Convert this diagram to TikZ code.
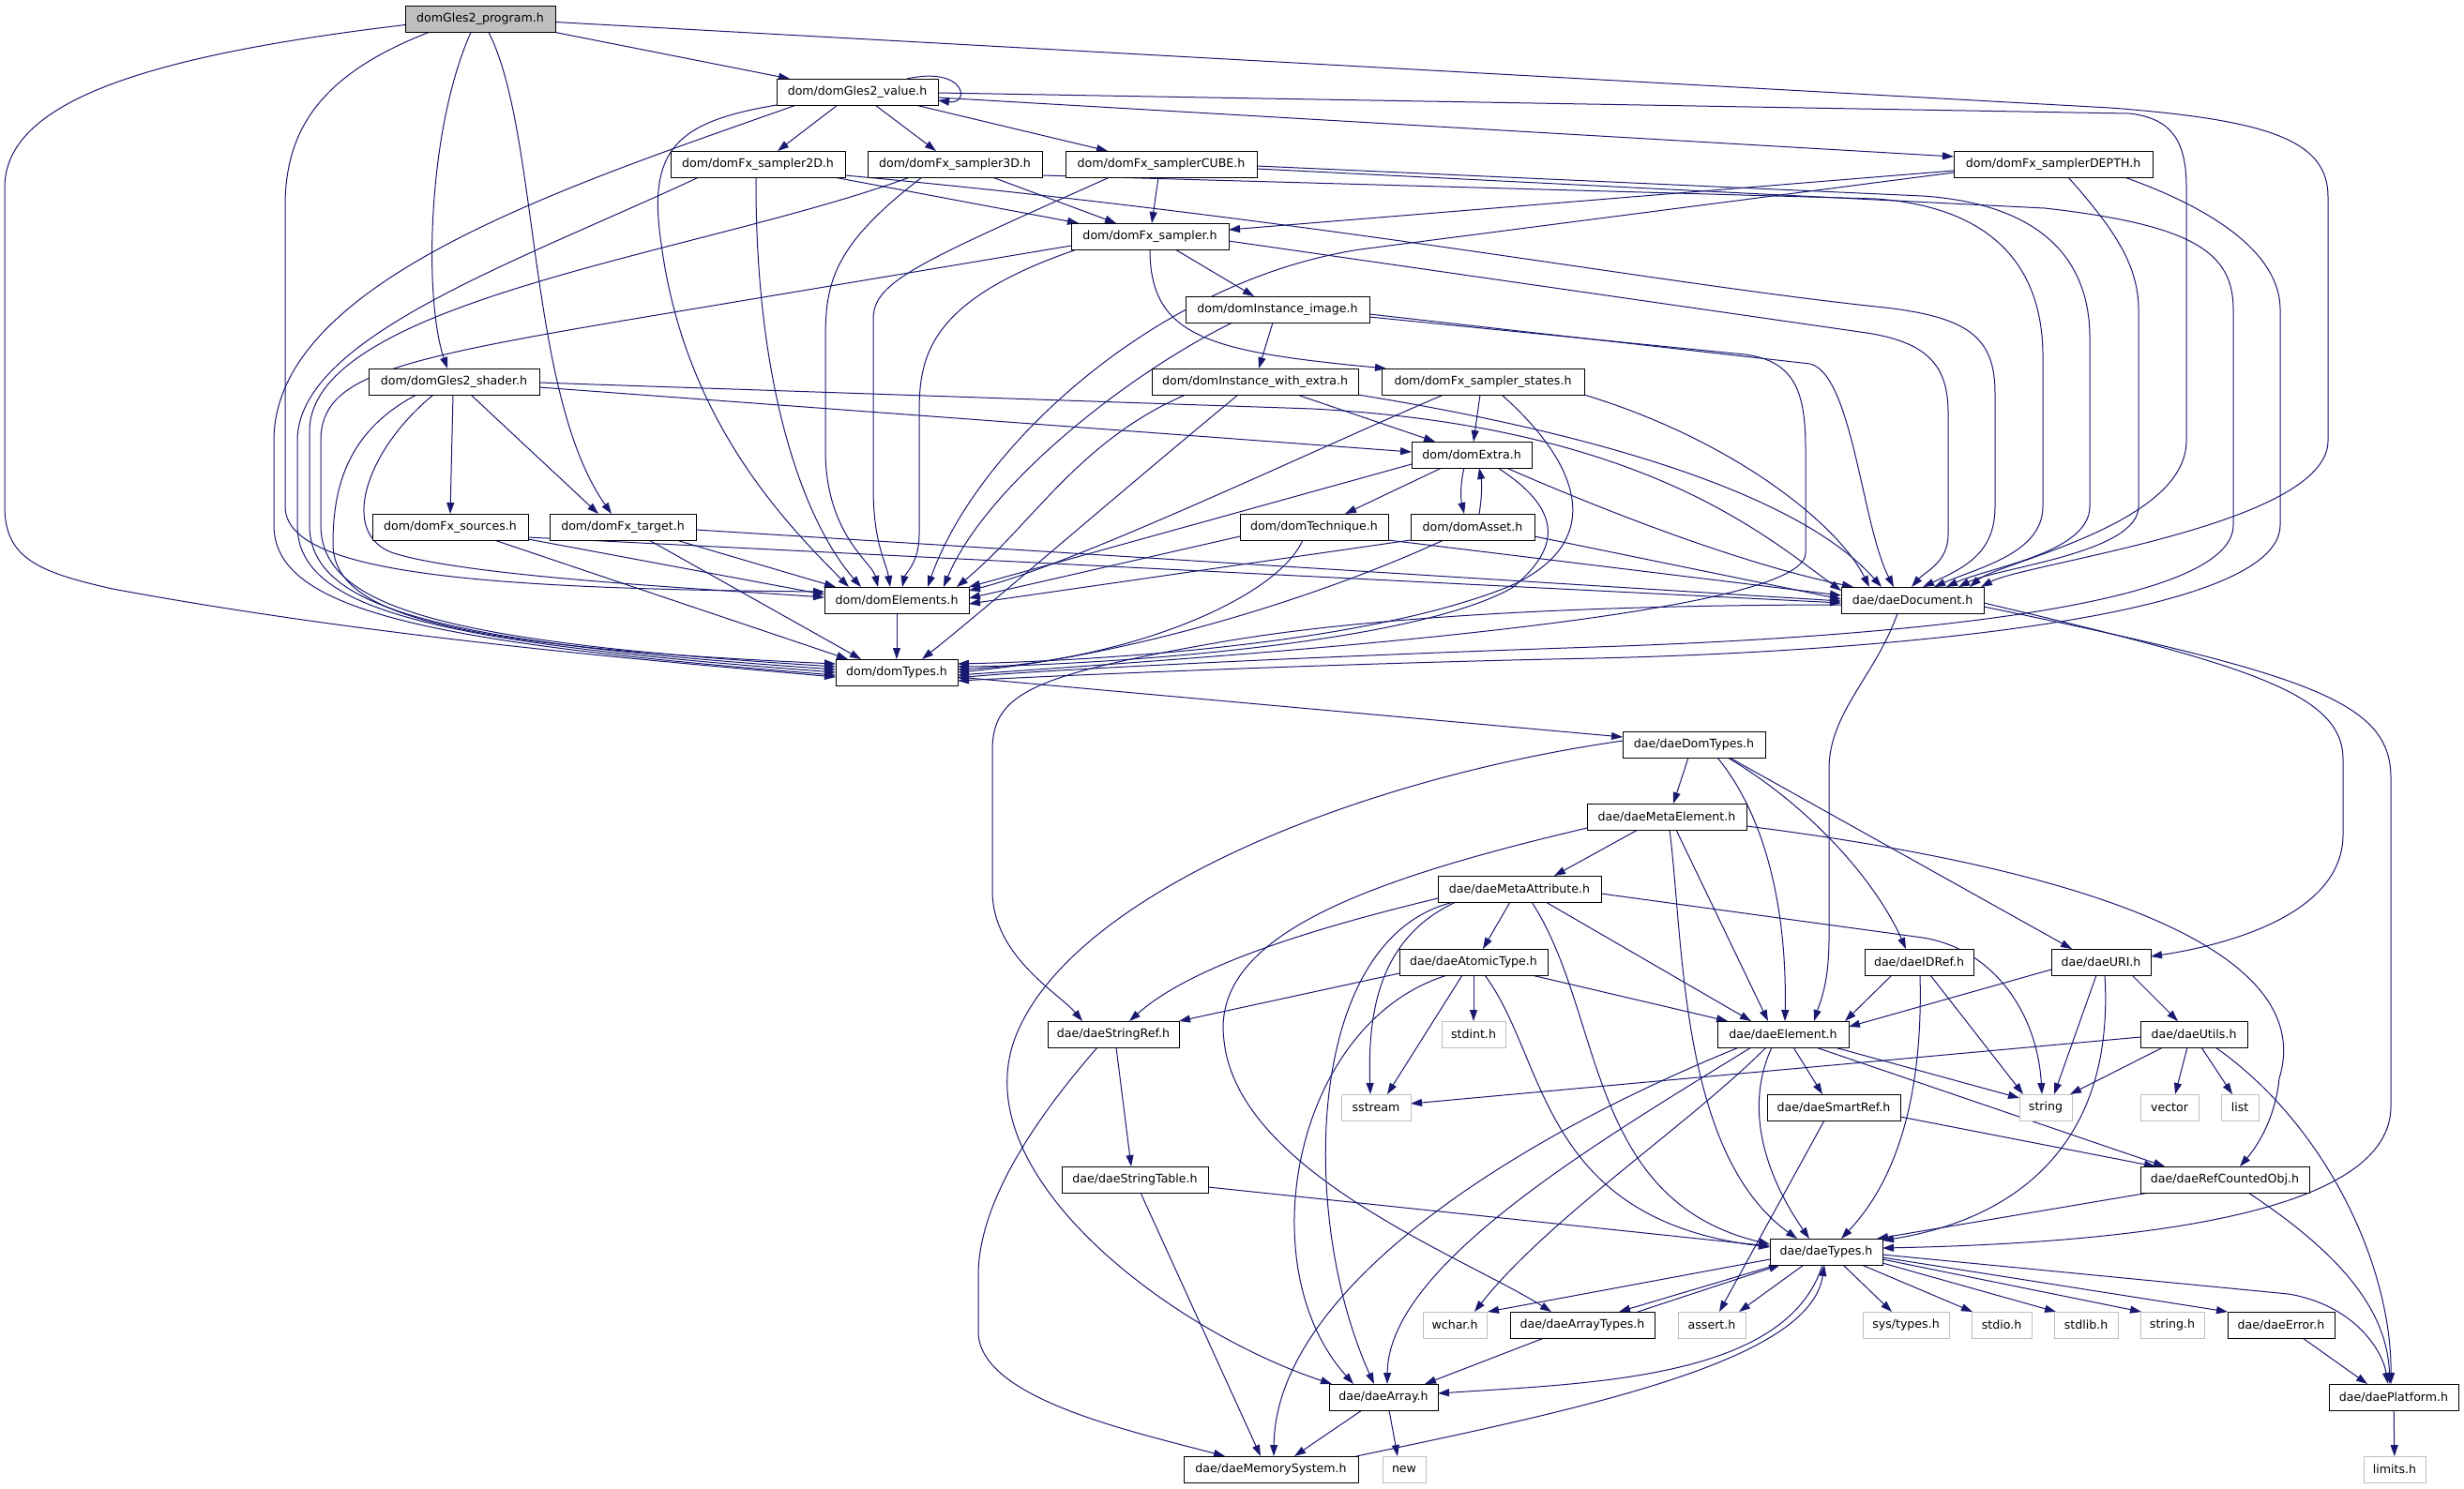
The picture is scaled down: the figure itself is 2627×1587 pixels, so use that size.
\documentclass[tikz,border=0pt]{standalone}
\usepackage{fontspec}
\setmainfont{DejaVu Sans}
\usetikzlibrary{arrows.meta,calc}
\definecolor{edgec}{HTML}{191970}
\definecolor{lgrey}{HTML}{BFBFBF}
\pgfdeclarelayer{bg}
\pgfsetlayers{bg,main}
\newcommand\nodefnt{\fontsize{6.3pt}{7.5pt}\selectfont}
\tikzset{
  nb/.style={draw=black, line width=0.5pt, fill=white, minimum width=#1*0.5pt, minimum height=14pt, inner sep=0pt, outer sep=0pt, font=\nodefnt},
  gb/.style={nb=#1, draw=lgrey},
  e/.style={draw=edgec, line width=0.5pt, -{Triangle[length=6pt,width=4pt]}}
}
\begin{document}
\begin{tikzpicture}[x=0.5pt,y=-0.5pt]
\useasboundingbox (0,0) rectangle (2627,1587);
% nodes
\node[nb=160, fill=lgrey] (P) at (512,20.5) {domGles2\_program.h};
\node[nb=172] (value) at (914,98) {dom/domGles2\_value.h};
\node[nb=186] (s2D) at (808,175) {dom/domFx\_sampler2D.h};
\node[nb=186] (s3D) at (1018,175) {dom/domFx\_sampler3D.h};
\node[nb=204] (CUBE) at (1238,175) {dom/domFx\_samplerCUBE.h};
\node[nb=212] (DEPTH) at (2189,175) {dom/domFx\_samplerDEPTH.h};
\node[nb=168] (sampler) at (1226,252) {dom/domFx\_sampler.h};
\node[nb=196] (instimg) at (1362,330) {dom/domInstance\_image.h};
\node[nb=220] (instwe) at (1338,407) {dom/domInstance\_with\_extra.h};
\node[nb=216] (states) at (1581,407) {dom/domFx\_sampler\_states.h};
\node[nb=182] (shader) at (484,407) {dom/domGles2\_shader.h};
\node[nb=128] (extra) at (1569,485) {dom/domExtra.h};
\node[nb=158] (technique) at (1401,562) {dom/domTechnique.h};
\node[nb=132] (asset) at (1570,562) {dom/domAsset.h};
\node[nb=166] (sources) at (480,562) {dom/domFx\_sources.h};
\node[nb=156] (target) at (664,562) {dom/domFx\_target.h};
\node[nb=154] (domElements) at (956,640) {dom/domElements.h};
\node[nb=130] (domTypes) at (956,717) {dom/domTypes.h};
\node[nb=152] (daeDocument) at (2039,640) {dae/daeDocument.h};
\node[nb=152] (daeDomTypes) at (1806,794) {dae/daeDomTypes.h};
\node[nb=170] (metaElem) at (1777,871) {dae/daeMetaElement.h};
\node[nb=174] (metaAttr) at (1620,948) {dae/daeMetaAttribute.h};
\node[nb=158] (atomic) at (1571,1026) {dae/daeAtomicType.h};
\node[nb=116] (idref) at (2046,1026) {dae/daeIDRef.h};
\node[nb=106] (uri) at (2240,1026) {dae/daeURI.h};
\node[nb=140] (stringref) at (1187,1103) {dae/daeStringRef.h};
\node[gb=68] (stdint) at (1571,1103) {stdint.h};
\node[nb=140] (element) at (1901,1103) {dae/daeElement.h};
\node[nb=114] (utils) at (2339,1103) {dae/daeUtils.h};
\node[gb=74] (sstream) at (1467,1181) {sstream};
\node[nb=142] (smartref) at (1955,1181) {dae/daeSmartRef.h};
\node[gb=56] (string) at (2181,1181) {string};
\node[gb=62] (vector) at (2313,1181) {vector};
\node[gb=40] (list) at (2388,1181) {list};
\node[nb=156] (stringtable) at (1210,1258) {dae/daeStringTable.h};
\node[nb=180] (refcounted) at (2372,1258) {dae/daeRefCountedObj.h};
\node[nb=120] (daetypes) at (1947,1335) {dae/daeTypes.h};
\node[gb=68] (wchar) at (1551,1413) {wchar.h};
\node[nb=154] (arraytypes) at (1687,1413) {dae/daeArrayTypes.h};
\node[gb=72] (assert) at (1825,1413) {assert.h};
\node[gb=92] (systypes) at (2032,1413) {sys/types.h};
\node[gb=64] (stdio) at (2134,1413) {stdio.h};
\node[gb=68] (stdlib) at (2224,1413) {stdlib.h};
\node[gb=68] (stringh) at (2316,1413) {string.h};
\node[nb=114] (error) at (2432,1413) {dae/daeError.h};
\node[nb=116] (array) at (1475,1490) {dae/daeArray.h};
\node[nb=138] (platform) at (2552,1490) {dae/daePlatform.h};
\node[nb=186] (memsys) at (1355,1567) {dae/daeMemorySystem.h};
\node[gb=46] (new) at (1497,1567) {new};
\node[gb=66] (limits) at (2553,1567) {limits.h};

\begin{pgfonlayer}{bg}
% ---- P
\draw[e] ($(P.west)+(0,6)$) .. controls (150,60) and (5,110) .. (5,200) -- (5,540) .. controls (5,595) and (40,610) .. (120,628) .. controls (400,680) and (700,705) .. ($(domTypes.west)+(0,5)$);
\draw[e] ($(P.south west)+(25,0)$) .. controls (340,80) and (304,140) .. (304,220) -- (304,540) .. controls (304,610) and (500,628) .. ($(domElements.west)+(0,-9)$);
\draw[e] (P.south east) -- ($(value.north west)+(14,0)$);
\draw[e] ($(P.south)+(-10,0)$) .. controls (455,140) and (452,320) .. ($(shader.north)+(-7,0)$);
\draw[e] ($(P.south)+(9,0)$) .. controls (575,140) and (562,420) .. ($(target.north)+(-12,0)$);
\draw[e] ($(P.east)+(0,3)$) -- (2250,115) .. controls (2420,128) and (2482,150) .. (2482,210) -- (2482,470) .. controls (2482,560) and (2160,600) .. ($(daeDocument.north east)+(-3,0)$);
% ---- value
\draw[e] ($(value.north east)+(-33,0)$) .. controls (1030,70) and (1035,112) .. ($(value.east)+(0,9)$);
\draw[e] ($(value.south)+(-21,0)$) -- ($(s2D.north)+(21,0)$);
\draw[e] ($(value.south)+(19,0)$) -- ($(s3D.north)+(-20,0)$);
\draw[e] ($(value.south east)+(-24,0)$) -- ($(CUBE.north west)+(45,0)$);
\draw[e] ($(value.east)+(0,6)$) -- ($(DEPTH.west)+(0,-8)$);
\draw[e] ($(value.east)+(0,1)$) -- (2270,121) .. controls (2315,126) and (2331,150) .. (2331,200) -- (2331,470) .. controls (2331,560) and (2130,600) .. ($(daeDocument.north east)+(-15,0)$);
\draw[e] (value.south west) .. controls (720,130) and (690,160) .. (705,260) .. controls (730,450) and (840,560) .. ($(domElements.north west)+(26,0)$);
\draw[e] ($(value.south west)+(21,0)$) .. controls (600,200) and (292,300) .. (292,470) -- (292,560) .. controls (292,650) and (450,685) .. ($(domTypes.west)+(0,3)$);
% ---- s2D
\draw[e] ($(s2D.south east)+(-12,0)$) -- ($(sampler.north west)+(8,0)$);
\draw[e] ($(s2D.east)+(0,12)$) .. controls (1400,233) and (1750,300) .. (2000,327) .. controls (2100,337) and (2127,360) .. (2127,420) -- (2127,540) .. controls (2127,590) and (2095,605) .. ($(daeDocument.north)+(11,0)$);
\draw[e] ($(s2D.south)+(-2,0)$) .. controls (805,420) and (860,560) .. ($(domElements.north west)+(39,0)$);
\draw[e] ($(s2D.south west)+(30,0)$) .. controls (550,280) and (317,360) .. (317,470) -- (317,560) .. controls (317,650) and (460,685) .. ($(domTypes.west)+(0,0)$);
% ---- s3D
\draw[e] ($(s3D.south)+(40,0)$) -- ($(sampler.north)+(-36,0)$);
\draw[e] ($(s3D.east)+(0,12)$) -- (2000,212) .. controls (2140,222) and (2178,300) .. (2178,380) -- (2178,540) .. controls (2178,590) and (2110,605) .. ($(daeDocument.north)+(23,0)$);
\draw[e] ($(s3D.south)+(-35,0)$) .. controls (890,260) and (880,300) .. (880,360) -- (880,480) .. controls (880,570) and (930,600) .. ($(domElements.north)+(-20,0)$);
\draw[e] ($(s3D.south west)+(45,0)$) .. controls (750,270) and (330,320) .. (330,460) -- (330,560) .. controls (330,650) and (470,685) .. ($(domTypes.west)+(0,-3)$);
% ---- CUBE
\draw[e] ($(CUBE.south)+(-3,0)$) -- ($(sampler.north)+(2,0)$);
\draw[e] ($(CUBE.east)+(0,2)$) -- (2050,209) .. controls (2180,218) and (2228,280) .. (2228,360) -- (2228,540) .. controls (2228,590) and (2120,605) .. ($(daeDocument.north)+(36,0)$);
\draw[e] ($(CUBE.east)+(0,5)$) -- (2180,222) .. controls (2340,240) and (2381,270) .. (2381,330) -- (2381,560) .. controls (2381,650) and (2000,680) .. (1700,690) .. controls (1400,700) and (1100,715) .. ($(domTypes.east)+(0,6)$);
\draw[e] ($(CUBE.south west)+(47,0)$) .. controls (980,280) and (931,300) .. (931,340) -- (931,520) .. controls (931,580) and (945,600) .. ($(domElements.north)+(-7,0)$);
% ---- DEPTH
\draw[e] ($(DEPTH.west)+(0,7)$) -- ($(sampler.east)+(0,-7)$);
\draw[e] ($(DEPTH.west)+(0,9)$) -- (1450,266) .. controls (1230,300) and (1040,480) .. ($(domElements.north)+(33,0)$);
\draw[e] ($(DEPTH.south)+(16,0)$) .. controls (2250,240) and (2280,280) .. (2280,330) -- (2280,540) .. controls (2280,590) and (2130,605) .. ($(daeDocument.north)+(49,0)$);
\draw[e] ($(DEPTH.south east)+(-30,0)$) .. controls (2380,230) and (2431,280) .. (2431,330) -- (2431,560) .. controls (2431,660) and (2000,695) .. (1700,702) .. controls (1400,708) and (1100,722) .. ($(domTypes.east)+(0,9)$);
% ---- sampler
\draw[e] ($(sampler.south east)+(-57,0)$) -- ($(instimg.north west)+(73,0)$);
\draw[e] (sampler.south) .. controls (1226,360) and (1290,375) .. ($(states.north west)+(5,0)$);
\draw[e] ($(sampler.east)+(0,5)$) -- (1990,355) .. controls (2055,365) and (2077,390) .. (2077,440) -- (2077,570) .. controls (2077,600) and (2052,610) .. ($(daeDocument.north)+(-1,0)$);
\draw[e] ($(sampler.south west)+(6,0)$) .. controls (990,320) and (980,380) .. (980,440) -- (980,570) .. controls (980,600) and (965,612) .. ($(domElements.north)+(6,0)$);
\draw[e] ($(sampler.west)+(0,10)$) -- (700,336) .. controls (420,383) and (342,400) .. (342,470) -- (342,560) .. controls (342,650) and (480,685) .. ($(domTypes.west)+(0,-6)$);
% ---- instimg
\draw[e] ($(instimg.south)+(-5,0)$) -- ($(instwe.north)+(4,0)$);
\draw[e] ($(instimg.east)+(0,5)$) -- (1930,388) .. controls (1975,400) and (1985,560) .. ($(daeDocument.north west)+(56,0)$);
\draw[e] ($(instimg.east)+(0,8)$) -- (1860,378) .. controls (1915,385) and (1925,420) .. (1925,480) -- (1925,590) .. controls (1925,660) and (1300,700) .. ($(domTypes.east)+(0,3)$);
\draw[e] ($(instimg.south west)+(50,0)$) .. controls (1200,400) and (1050,520) .. ($(domElements.north east)+(-27,0)$);
% ---- instwe
\draw[e] ($(instwe.south)+(45,0)$) -- ($(extra.north west)+(25,0)$);
\draw[e] (instwe.south east) .. controls (1750,470) and (1930,540) .. ($(daeDocument.north west)+(43,0)$);
\draw[e] ($(instwe.south west)+(36,0)$) .. controls (1150,470) and (1100,560) .. ($(domElements.north east)+(-13,0)$);
\draw[e] ($(instwe.south west)+(92,0)$) .. controls (1200,520) and (1050,650) .. ($(domTypes.north east)+(-38,0)$);
% ---- states
\draw[e] ($(states.south)+(-3,0)$) -- ($(extra.north)+(2,0)$);
\draw[e] (states.south east) .. controls (1850,470) and (1960,560) .. ($(daeDocument.north west)+(30,0)$);
\draw[e] ($(states.south west)+(66,0)$) .. controls (1400,480) and (1150,600) .. ($(domElements.east)+(0,-10)$);
\draw[e] ($(states.south)+(20,0)$) .. controls (1690,500) and (1710,580) .. (1610,625) .. controls (1450,690) and (1150,705) .. ($(domTypes.east)+(0,-9)$);
% ---- shader
\draw[e] ($(shader.south)+(-1,0)$) -- (sources.north);
\draw[e] ($(shader.south)+(18,0)$) -- ($(target.north)+(-26,0)$);
\draw[e] ($(shader.east)+(0,6)$) -- ($(extra.west)+(0,-3)$);
\draw[e] ($(shader.east)+(0,1)$) -- (1400,436) .. controls (1750,455) and (1880,570) .. ($(daeDocument.west)+(0,-10)$);
\draw[e] ($(shader.south)+(-22,0)$) .. controls (390,480) and (360,570) .. (420,590) .. controls (500,615) and (750,628) .. ($(domElements.west)+(0,-3)$);
\draw[e] ($(shader.south)+(-40,0)$) .. controls (370,460) and (355,520) .. (355,580) .. controls (355,660) and (500,690) .. ($(domTypes.west)+(0,-9)$);
% ---- extra
\draw[e] ($(extra.south west)+(32,0)$) -- ($(technique.north east)+(-46,0)$);
\draw[e] ($(extra.south)+(-8,0)$) .. controls (1557,515) and (1557,530) .. ($(asset.north)+(-9,0)$);
\draw[e] ($(asset.north)+(7,0)$) .. controls (1580,530) and (1580,515) .. ($(extra.south)+(8,0)$);
\draw[e] ($(extra.south east)+(-27,0)$) .. controls (1700,540) and (1850,600) .. ($(daeDocument.north west)+(13,0)$);
\draw[e] ($(extra.south west)+(0,-4)$) -- (domElements.north east);
\draw[e] ($(extra.south)+(28,0)$) .. controls (1660,540) and (1670,580) .. (1612,627) .. controls (1500,690) and (1150,710) .. ($(domTypes.east)+(0,-6)$);
% ---- technique
\draw[e] (technique.south east) -- ($(daeDocument.west)+(0,-5)$);
\draw[e] ($(technique.west)+(0,10)$) -- ($(domElements.east)+(0,-2)$);
\draw[e] ($(technique.south)+(-12,0)$) .. controls (1360,640) and (1200,705) .. ($(domTypes.east)+(0,-3)$);
% ---- asset
\draw[e] ($(asset.east)+(0,10)$) -- ($(daeDocument.west)+(0,-1)$);
\draw[e] (asset.south west) -- ($(domElements.east)+(0,4)$);
\draw[e] ($(asset.south)+(-31,0)$) .. controls (1400,640) and (1200,700) .. ($(domTypes.east)+(0,0)$);
% ---- sources / target
\draw[e] ($(sources.south)+(47,0)$) -- ($(domTypes.north west)+(13,0)$);
\draw[e] ($(sources.south east)+(0,-1)$) -- ($(domElements.west)+(0,-6)$);
\draw[e] ($(sources.south east)+(0,-3)$) -- ($(daeDocument.west)+(0,3)$);
\draw[e] ($(target.south)+(28,0)$) -- ($(domTypes.north west)+(27,0)$);
\draw[e] ($(target.south)+(57,0)$) -- ($(domElements.north west)+(12,0)$);
\draw[e] ($(target.east)+(0,3)$) -- ($(daeDocument.west)+(0,1)$);
% ---- domElements / domTypes
\draw[e] (domElements) -- (domTypes);
\draw[e] ($(domTypes.east)+(0,5)$) -- ($(daeDomTypes.west)+(0,-8)$);
% ---- daeDocument
\draw[e] ($(daeDocument.south)+(-16,0)$) .. controls (2000,720) and (1950,760) .. (1950,820) -- (1950,1000) .. controls (1950,1050) and (1940,1070) .. ($(element.north)+(33,0)$);
\draw[e] ($(daeDocument.east)+(0,3)$) .. controls (2400,710) and (2498,740) .. (2498,810) -- (2498,890) .. controls (2498,980) and (2360,1010) .. ($(uri.east)+(0,-6)$);
\draw[e] ($(daeDocument.east)+(0,7)$) .. controls (2470,720) and (2549,750) .. (2549,830) -- (2549,1180) .. controls (2549,1290) and (2300,1325) .. ($(daetypes.east)+(0,-4)$);
\draw[e] ($(daeDocument.west)+(0,5)$) .. controls (1800,645) and (1500,650) .. (1300,685) .. controls (1100,720) and (1058,740) .. (1058,800) -- (1058,950) .. controls (1058,1020) and (1130,1060) .. ($(stringref.north)+(-33,0)$);
% ---- daeDomTypes
\draw[e] ($(daeDomTypes.south)+(-6,0)$) -- ($(metaElem.north)+(7,0)$);
\draw[e] ($(daeDomTypes.south)+(25,0)$) .. controls (1890,880) and (1905,990) .. ($(element.north)+(2,0)$);
\draw[e] ($(daeDomTypes.south)+(36,0)$) .. controls (1930,860) and (2000,940) .. ($(idref.north)+(-14,0)$);
\draw[e] ($(daeDomTypes.south east)+(-38,0)$) -- ($(uri.north)+(-31,0)$);
\draw[e] ($(daeDomTypes.west)+(0,-4)$) .. controls (1450,830) and (1150,950) .. (1085,1100) .. controls (1020,1250) and (1250,1420) .. ($(array.north west)+(3,0)$);
% ---- metaElem
\draw[e] ($(metaElem.south)+(-31,0)$) -- ($(metaAttr.north)+(37,0)$);
\draw[e] ($(metaElem.south)+(3,0)$) .. controls (1795,1000) and (1790,1230) .. ($(daetypes.north west)+(29,0)$);
\draw[e] ($(metaElem.south)+(10,0)$) -- ($(element.north west)+(54,0)$);
\draw[e] ($(metaElem.east)+(0,10)$) .. controls (2250,930) and (2470,1020) .. (2430,1150) .. controls (2425,1200) and (2400,1230) .. ($(refcounted.north)+(16,0)$);
\draw[e] ($(metaElem.west)+(0,12)$) .. controls (1450,940) and (1290,1000) .. (1305,1110) .. controls (1320,1250) and (1560,1340) .. ($(arraytypes.north west)+(44,0)$);
% ---- metaAttr
\draw[e] ($(metaAttr.south)+(-10,0)$) -- ($(atomic.north)+(10,0)$);
\draw[e] ($(metaAttr.west)+(0,10)$) .. controls (1400,990) and (1270,1030) .. ($(stringref.north)+(17,0)$);
\draw[e] ($(metaAttr.south west)+(17,0)$) .. controls (1390,1000) and (1385,1300) .. ($(array.north)+(-10,0)$);
\draw[e] ($(metaAttr.south west)+(19,0)$) .. controls (1470,1000) and (1458,1080) .. ($(sstream.north)+(-6,0)$);
\draw[e] ($(metaAttr.south)+(13,0)$) .. controls (1710,1080) and (1690,1280) .. ($(daetypes.west)+(0,-8)$);
\draw[e] ($(metaAttr.south)+(28,0)$) -- ($(element.north west)+(36,0)$);
\draw[e] ($(metaAttr.east)+(0,5)$) -- (2050,1000) .. controls (2125,1012) and (2172,1080) .. ($(string.north)+(-4,0)$);
% ---- atomic
\draw[e] ($(atomic.south west)+(0,-2)$) -- (stringref.north east);
\draw[e] ($(atomic.south west)+(51,0)$) .. controls (1380,1090) and (1330,1350) .. ($(array.north west)+(26,0)$);
\draw[e] ($(atomic.south west)+(67,0)$) -- ($(sstream.north)+(12,0)$);
\draw[e] (atomic.south) -- (stdint.north);
\draw[e] ($(atomic.south)+(12,0)$) .. controls (1650,1130) and (1640,1300) .. ($(daetypes.west)+(0,-5)$);
\draw[e] ($(atomic.south east)+(-17,0)$) -- ($(element.north west)+(11,0)$);
% ---- idref / uri
\draw[e] ($(idref.south west)+(29,0)$) -- ($(element.north east)+(-4,0)$);
\draw[e] ($(idref.south)+(1,0)$) .. controls (2050,1150) and (2030,1250) .. ($(daetypes.north east)+(-44,0)$);
\draw[e] ($(idref.south)+(12,0)$) -- ($(string.north west)+(4,0)$);
\draw[e] ($(uri.west)+(0,8)$) -- ($(element.east)+(0,-8)$);
\draw[e] ($(uri.south)+(-5,0)$) -- ($(string.north)+(9,0)$);
\draw[e] ($(uri.south)+(4,0)$) .. controls (2255,1220) and (2150,1300) .. ($(daetypes.north east)+(0,2)$);
\draw[e] ($(uri.south east)+(-20,0)$) -- ($(utils.north)+(-17,0)$);
% ---- element
\draw[e] ($(element.south west)+(23,0)$) .. controls (1600,1220) and (1360,1380) .. ($(memsys.north)+(3,0)$);
\draw[e] ($(element.south west)+(36,0)$) .. controls (1700,1220) and (1480,1350) .. ($(array.north)+(4,0)$);
\draw[e] ($(element.south)+(-18,0)$) .. controls (1800,1200) and (1650,1300) .. ($(wchar.north)+(21,0)$);
\draw[e] ($(element.south)+(-12,0)$) .. controls (1860,1180) and (1880,1250) .. ($(daetypes.north)+(-18,0)$);
\draw[e] ($(element.south)+(11,0)$) -- ($(smartref.north)+(-12,0)$);
\draw[e] ($(element.south east)+(-35,0)$) -- ($(refcounted.north west)+(26,0)$);
\draw[e] ($(element.south east)+(-15,0)$) -- ($(string.west)+(0,-10)$);
% ---- smartref / utils
\draw[e] ($(smartref.east)+(0,10)$) -- ($(refcounted.north west)+(16,0)$);
\draw[e] ($(smartref.south)+(-10,0)$) -- ($(assert.north)+(8,0)$);
\draw[e] ($(utils.west)+(0,3)$) -- ($(sstream.east)+(0,-4)$);
\draw[e] ($(utils.south west)+(24,0)$) -- ($(string.north east)+(-2,0)$);
\draw[e] ($(utils.south)+(-7,0)$) -- ($(vector.north)+(6,0)$);
\draw[e] ($(utils.south)+(8,0)$) -- ($(list.north)+(-8,0)$);
\draw[e] ($(utils.south east)+(-34,0)$) .. controls (2480,1200) and (2550,1350) .. ($(platform.north)+(-3,0)$);
% ---- stringref / stringtable
\draw[e] ($(stringref.south)+(3,0)$) -- ($(stringtable.north)+(-4,0)$);
\draw[e] ($(stringref.south)+(-17,0)$) .. controls (1080,1220) and (1043,1300) .. (1043,1360) -- (1043,1420) .. controls (1043,1490) and (1200,1525) .. ($(memsys.north west)+(44,0)$);
\draw[e] ($(stringtable.east)+(0,8)$) -- ($(daetypes.west)+(0,-6)$);
\draw[e] ($(stringtable.south)+(6,0)$) -- ($(memsys.north)+(-11,0)$);
% ---- daetypes
\draw[e] ($(daetypes.south west)+(0,-6)$) -- ($(wchar.north east)+(1,0)$);
\draw[e] ($(daetypes.south west)+(7,0)$) -- ($(arraytypes.north east)+(-38,0)$);
\draw[e] ($(arraytypes.north east)+(-18,0)$) -- ($(daetypes.south west)+(11,0)$);
\draw[e] ($(daetypes.south)+(-24,0)$) -- ($(assert.north east)+(-7,0)$);
\draw[e] ($(daetypes.south)+(-4,0)$) .. controls (1905,1470) and (1700,1475) .. ($(array.east)+(0,-4)$);
\draw[e] ($(memsys.north east)+(-2,0)$) .. controls (1700,1500) and (1930,1450) .. ($(daetypes.south)+(-2,0)$);
\draw[e] ($(daetypes.south east)+(-42,0)$) -- ($(systypes.north)+(-15,0)$);
\draw[e] ($(daetypes.south east)+(-22,0)$) -- ($(stdio.north west)+(1,0)$);
\draw[e] ($(daetypes.east)+(0,12)$) -- ($(stdlib.north west)+(2,0)$);
\draw[e] ($(daetypes.east)+(0,8)$) -- ($(stringh.north west)+(1,0)$);
\draw[e] ($(daetypes.east)+(0,6)$) -- (error.north west);
\draw[e] ($(daetypes.east)+(0,3)$) -- (2440,1380) .. controls (2510,1392) and (2540,1440) .. ($(platform.north)+(-6,0)$);
% ---- refcounted and the rest
\draw[e] ($(refcounted.south west)+(9,0)$) -- ($(daetypes.north east)+(-6,0)$);
\draw[e] ($(refcounted.south)+(25,0)$) .. controls (2500,1340) and (2545,1400) .. ($(platform.north)+(-4,0)$);
\draw[e] ($(error.south east)+(-34,0)$) -- ($(platform.north west)+(41,0)$);
\draw[e] (platform) -- (limits);
\draw[e] ($(arraytypes.south west)+(36,0)$) -- ($(array.north east)+(-14,0)$);
\draw[e] ($(array.south west)+(35,0)$) -- ($(memsys.north east)+(-68,0)$);
\draw[e] ($(array.south)+(6,0)$) -- ($(new.north)+(-7,0)$);
\end{pgfonlayer}
\end{tikzpicture}
\end{document}
